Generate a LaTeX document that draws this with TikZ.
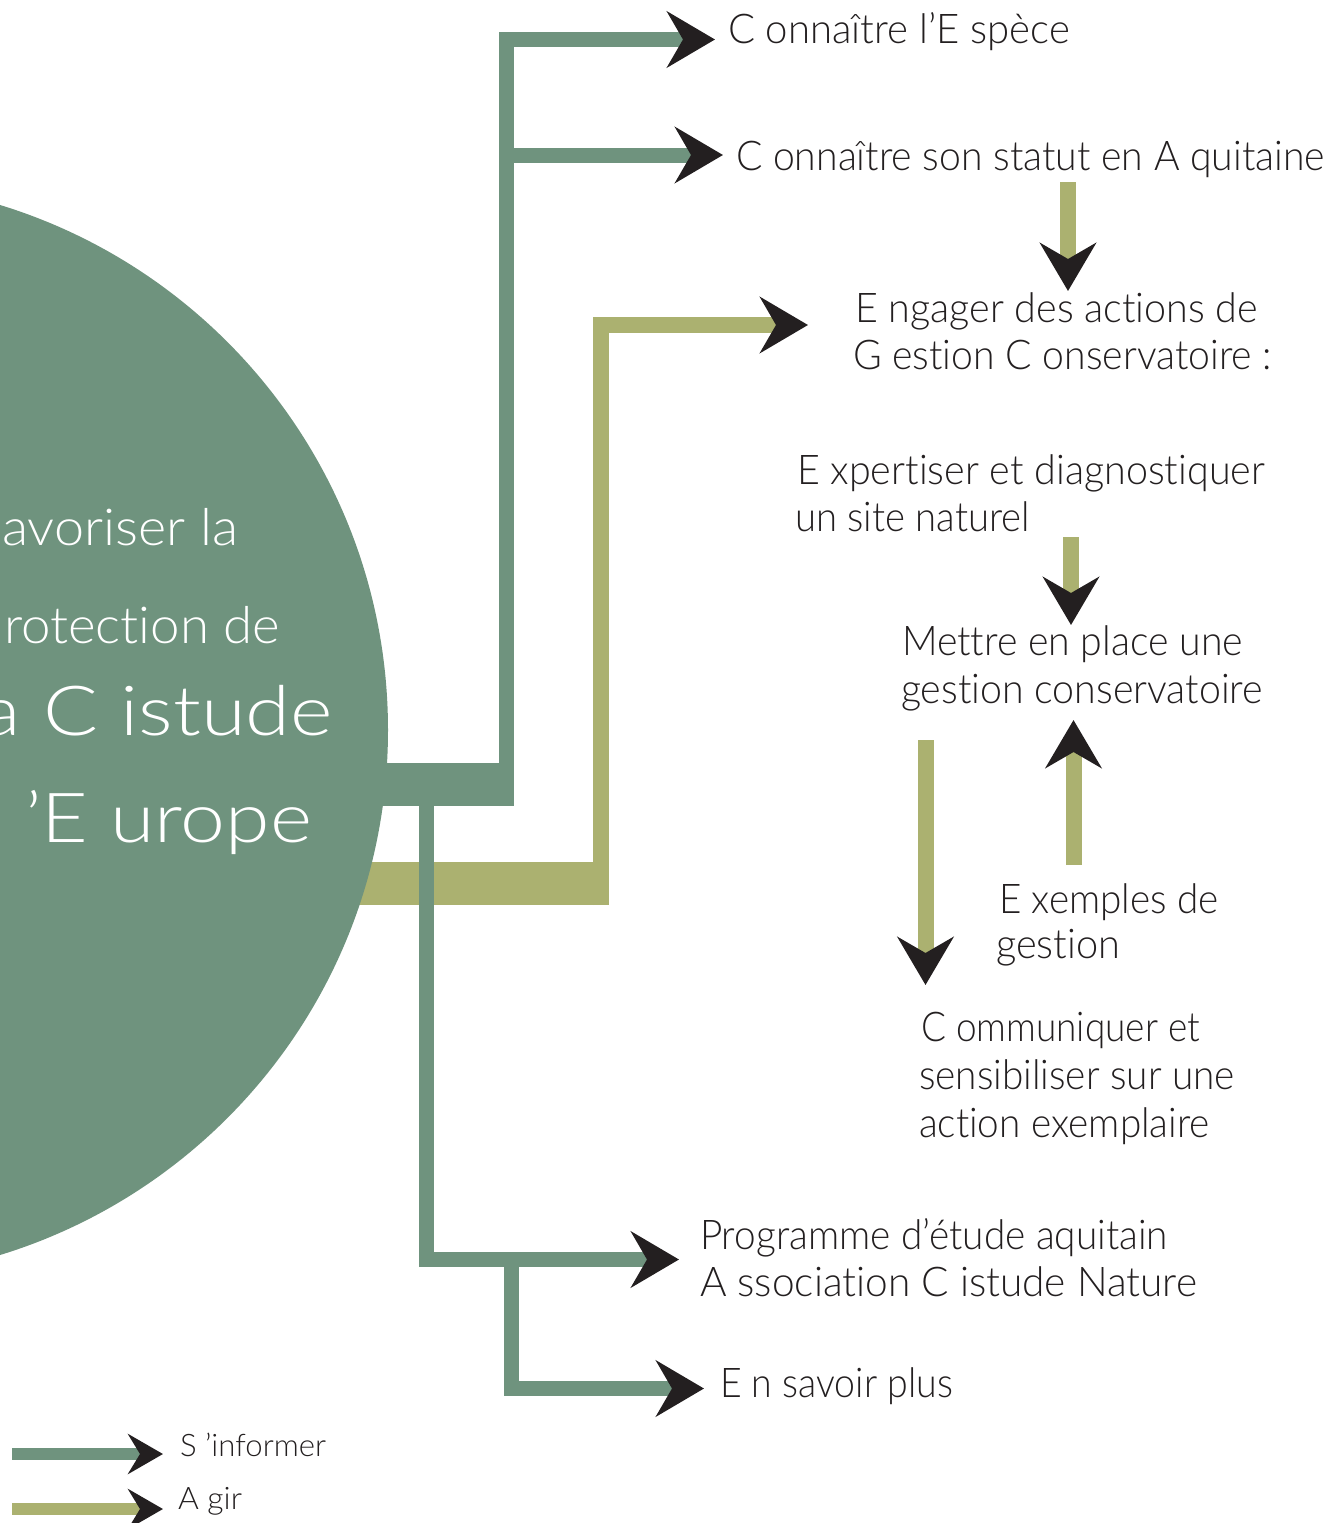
\documentclass[tikz,border=0pt]{standalone}
\usepackage{fontspec}
\setmainfont{Lato Light}[Ligatures=NoCommon]
\usepackage{graphicx}
\usetikzlibrary{arrows.meta}
\definecolor{sgreen}{HTML}{6F937E}
\definecolor{solive}{HTML}{ABB170}
\definecolor{ink}{HTML}{231F20}
\newlength\fitlen
\newcommand\fitline[2]{\settowidth\fitlen{#2}\pgfmathsetmacro\fitfac{#1/\fitlen}\scalebox{\fitfac}[1]{#2}}
\begin{document}
\begin{tikzpicture}[x=1pt,y=-1pt,
  txt/.style={inner sep=0pt,outer sep=0pt,anchor=base west,text=ink,font=\fontsize{41}{48}\selectfont},
  legtxt/.style={txt,font=\fontsize{31}{36}\selectfont},
  wsmall/.style={inner sep=0pt,outer sep=0pt,anchor=base west,text=white,font=\fontsize{51}{60}\selectfont},
  wbig/.style={inner sep=0pt,outer sep=0pt,anchor=base west,text=white,font=\fontsize{69}{80}\selectfont},
  gline/.style={draw=sgreen,line width=15pt},
  oline/.style={draw=solive,line width=16pt},
  bigtip/.style={-{Stealth[length=48pt,width=56pt,inset=16pt,color=ink,fill=ink]}},
  smalltip/.style={-{Stealth[length=35pt,width=40pt,inset=12pt,color=ink,fill=ink]}}
]
\useasboundingbox (0,0) rectangle (1340,1523);
\clip (0,0) rectangle (1340,1523);

% Agir (olive) trunk
\fill[solive] (300,862) rectangle (609,905);
\coordinate (oj) at (600.5,905);
\coordinate (ob) at (600.5,325);
\coordinate (ot) at (808,325);
\draw[oline,bigtip] (oj) -- (ob) -- (ot);

% central circle
\fill[sgreen] (-161,730) circle[radius=549pt];

% S'informer (green) trunk
\fill[sgreen] (300,763) rectangle (513,806);
\coordinate (gj) at (506.5,806);
\coordinate (g1b) at (506.5,39.5);
\coordinate (g1t) at (715,39.5);
\coordinate (g2s) at (506.5,155);
\coordinate (g2t) at (723,155);
\coordinate (gd) at (426.5,806);
\coordinate (gdb) at (426.5,1259.5);
\coordinate (g3t) at (679,1259.5);
\coordinate (g4s) at (511.5,1259.5);
\coordinate (g4b) at (511.5,1388.5);
\coordinate (g4t) at (704,1388.5);
\draw[gline,bigtip] (gj) -- (g1b) -- (g1t);
\draw[gline,bigtip] (g2s) -- (g2t);
\draw[gline,bigtip] (gd) -- (gdb) -- (g3t);
\draw[gline,bigtip] (g4s) -- (g4b) -- (g4t);

% circle text
\node[wsmall] (c1) at (2,545) {\fitline{236}{avoriser la}};
\node[wsmall] (c2) at (4,643) {\fitline{276}{rotection de}};
\node[wbig] (c3) at (-18,735) {\fitline{351}{a C istude}};
\node[wbig] (c4) at (25,842) {\fitline{287}{’E urope}};

% right texts
\node[txt] (t1) at (728,43) {\fitline{342}{C onnaître l’E spèce}};
\node[txt] (t2) at (736,170) {\fitline{589}{C onnaître son statut en A quitaine}};
\node[txt] (t3a) at (855,322) {\fitline{403}{E ngager des actions de}};
\node[txt] (t3b) at (853,369) {\fitline{419}{G estion C onservatoire :}};
\node[txt] (t4a) at (797,484) {\fitline{468}{E xpertiser et diagnostiquer}};
\node[txt] (t4b) at (795,531) {\fitline{235}{un site naturel}};
\node[txt] (t5a) at (902,655) {\fitline{341}{Mettre en place une}};
\node[txt] (t5b) at (901,703) {\fitline{362}{gestion conservatoire}};
\node[txt] (t6a) at (999,913) {\fitline{220}{E xemples de}};
\node[txt] (t6b) at (996,958) {\fitline{124}{gestion}};
\node[txt] (t7a) at (921,1041) {\fitline{279}{C ommuniquer et}};
\node[txt] (t7b) at (919,1089) {\fitline{316}{sensibiliser sur une}};
\node[txt] (t7c) at (919,1137) {\fitline{291}{action exemplaire}};
\node[txt] (t8a) at (700,1249) {\fitline{468}{Programme d’étude aquitain}};
\node[txt] (t8b) at (700,1296) {\fitline{497}{A ssociation C istude Nature}};
\node[txt] (t9) at (720,1397) {\fitline{233}{E n savoir plus}};

% olive step arrows
\coordinate (a1s) at (1068,182);  \coordinate (a1t) at (1068,291);
\coordinate (a2s) at (1071,537);  \coordinate (a2t) at (1071,625);
\coordinate (a3s) at (925.5,740); \coordinate (a3t) at (925.5,985);
\coordinate (a4s) at (1073.5,865);\coordinate (a4t) at (1073.5,720);
\draw[oline,bigtip] (a1s) -- (a1t);
\draw[oline,bigtip] (a2s) -- (a2t);
\draw[oline,bigtip] (a3s) -- (a3t);
\draw[oline,bigtip] (a4s) -- (a4t);

% legend
\coordinate (l1s) at (12,1454); \coordinate (l1t) at (163,1454);
\coordinate (l2s) at (12,1509); \coordinate (l2t) at (163,1509);
\draw[draw=sgreen,line width=12pt,smalltip] (l1s) -- (l1t);
\draw[draw=solive,line width=12pt,smalltip] (l2s) -- (l2t);
\node[legtxt] (lg1) at (180,1456) {\fitline{146}{S ’informer}};
\node[legtxt] (lg2) at (178,1509) {\fitline{64}{A gir}};
\end{tikzpicture}
\end{document}
